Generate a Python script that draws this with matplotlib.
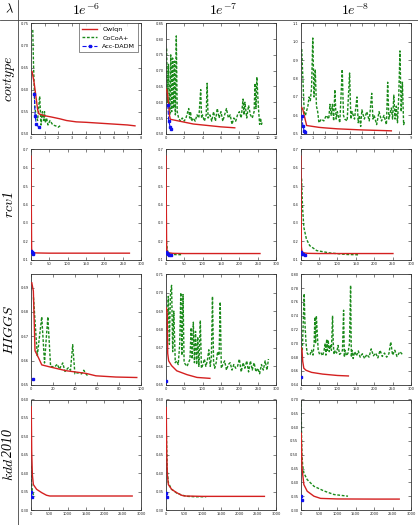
import matplotlib
matplotlib.use("Agg")
import matplotlib.pyplot as plt
from matplotlib.lines import Line2D
from matplotlib.ticker import MultipleLocator

plt.rcParams['mathtext.fontset'] = 'cm'

# ---------------- data ----------------
datasets = ['covtype', 'rcv1', 'HIGGS', 'kdd2010']
lambdas = ['-6', '-7', '-8']
methods = ['Owlqn', 'CoCoA+', 'Acc-DADM']

# covtype
cov6_owl_x = [0.1, 0.25, 0.38, 0.5, 0.6, 1.0, 1.5, 2.1, 2.6, 3.3, 4.0, 5.0, 6.0, 7.0, 7.55]
cov6_owl_y = [0.641, 0.615, 0.584, 0.555, 0.545, 0.541, 0.538, 0.534, 0.530, 0.527, 0.526, 0.524, 0.522, 0.520, 0.518]
cov6_coc_x = [0.15, 0.2, 0.3, 0.4, 0.5, 0.55, 0.65, 0.75, 0.85, 0.95, 1.0, 1.05, 1.15, 1.25, 1.4, 1.6, 1.8, 2.0, 2.2]
cov6_coc_y = [0.735, 0.66, 0.56, 0.54, 0.53, 0.55, 0.585, 0.52, 0.55, 0.53, 0.55, 0.525, 0.535, 0.52, 0.53, 0.52, 0.518, 0.515, 0.52]
cov6_acc_x = [0.26, 0.32, 0.4, 0.58]
cov6_acc_y = [0.59, 0.541, 0.522, 0.515]

cov7_owl_x = [0.1, 0.2, 0.3, 0.4, 0.5, 1.0, 2.0, 3.0, 4.0, 5.0, 6.0, 7.0, 7.5]
cov7_owl_y = [0.641, 0.625, 0.60, 0.56, 0.546, 0.543, 0.537, 0.531, 0.528, 0.525, 0.522, 0.520, 0.519]
cov7_coc_x = [0.1, 0.2, 0.3, 0.45, 0.55, 0.65, 0.75, 0.85, 0.95, 1.05,
              1.15, 1.25, 1.4, 1.6, 1.8, 2.0, 2.2, 2.4, 2.5, 2.6,
              2.7, 2.8, 3.0, 3.2, 3.4, 3.6, 3.8, 3.9, 4.0, 4.2,
              4.4, 4.5, 4.6, 4.8, 5.0, 5.2, 5.4, 5.6, 5.8, 6.0,
              6.2, 6.4, 6.6, 6.8, 7.0, 7.2, 7.4, 7.6, 7.8, 8.0,
              8.2, 8.4, 8.5, 8.6, 8.8, 9.0, 9.2, 9.4, 9.6, 9.7,
              9.8, 9.9, 10.0, 10.1, 10.2, 10.3, 10.4, 10.5]
cov7_coc_y = [0.77, 0.60, 0.72, 0.56, 0.75, 0.57, 0.74, 0.58, 0.73, 0.56,
              0.81, 0.57, 0.55, 0.54, 0.55, 0.54, 0.55, 0.57, 0.58, 0.55,
              0.57, 0.54, 0.55, 0.54, 0.56, 0.55, 0.64, 0.55, 0.56, 0.54,
              0.56, 0.66, 0.55, 0.56, 0.54, 0.57, 0.54, 0.58, 0.55, 0.57,
              0.54, 0.56, 0.58, 0.55, 0.56, 0.53, 0.55, 0.54, 0.56, 0.57,
              0.55, 0.61, 0.56, 0.60, 0.55, 0.59, 0.56, 0.55, 0.57, 0.66,
              0.58, 0.68, 0.62, 0.57, 0.53, 0.55, 0.53, 0.54]
cov7_acc_x = [0.22, 0.33, 0.48, 0.62]
cov7_acc_y = [0.592, 0.542, 0.521, 0.515]

cov8_owl_x = [0.1, 0.2, 0.3, 0.5, 1.0, 1.5, 2.0, 3.0, 4.0, 5.0, 6.0, 7.0, 7.4]
cov8_owl_y = [0.643, 0.63, 0.60, 0.545, 0.54, 0.535, 0.532, 0.527, 0.524, 0.521, 0.519, 0.517, 0.516]
cov8_coc_x = [0.1, 0.3, 0.4, 0.6, 0.7, 0.8, 0.9, 1.0, 1.1, 1.2,
              1.3, 1.4, 1.5, 1.7, 1.9, 2.1, 2.3, 2.4, 2.5, 2.6,
              2.7, 2.8, 2.9, 3.0, 3.2, 3.4, 3.5, 3.6, 3.8, 4.0,
              4.1, 4.2, 4.4, 4.6, 4.7, 4.8, 4.9, 5.0, 5.2, 5.4,
              5.6, 5.8, 5.9, 6.0, 6.2, 6.4, 6.6, 6.8, 7.0, 7.1,
              7.2, 7.4, 7.5, 7.6, 7.7, 7.8, 7.9, 8.0, 8.1, 8.2,
              8.3, 8.4, 8.5]
cov8_coc_y = [0.96, 0.62, 0.60, 0.65, 0.70, 0.68, 0.75, 1.02, 0.70, 0.85,
              0.65, 0.62, 0.56, 0.58, 0.57, 0.60, 0.58, 0.66, 0.60, 0.66,
              0.57, 0.74, 0.58, 0.62, 0.56, 0.85, 0.60, 0.58, 0.57, 0.83,
              0.58, 0.62, 0.58, 0.70, 0.56, 0.60, 0.54, 0.63, 0.58, 0.62,
              0.57, 0.72, 0.58, 0.60, 0.55, 0.62, 0.57, 0.60, 0.55, 0.78,
              0.58, 0.64, 0.58, 0.71, 0.58, 0.65, 0.56, 0.70, 0.95, 0.62,
              0.78, 0.55, 0.57]
cov8_acc_x = [0.11, 0.2, 0.3, 0.4]
cov8_acc_y = [0.594, 0.54, 0.516, 0.509]

# rcv1
rcv6_owl_x = [1, 1.5, 2.5, 4, 8, 20, 50, 100, 200, 268]
rcv6_owl_y = [0.663, 0.45, 0.16, 0.142, 0.138, 0.137, 0.136, 0.136, 0.136, 0.136]
rcv6_coc_x = [1, 2, 3, 4]
rcv6_coc_y = [0.20, 0.15, 0.14, 0.136]
rcv6_acc_x = [2, 3.5, 5, 7]
rcv6_acc_y = [0.148, 0.14, 0.136, 0.134]

rcv7_owl_x = [1, 1.5, 2.5, 4, 8, 20, 50, 100, 200, 256]
rcv7_owl_y = [0.663, 0.45, 0.17, 0.145, 0.138, 0.135, 0.134, 0.134, 0.134, 0.134]
rcv7_coc_x = [2, 4, 6, 10, 20, 30, 45]
rcv7_coc_y = [0.20, 0.16, 0.14, 0.132, 0.129, 0.128, 0.128]
rcv7_acc_x = [2, 4, 7, 10, 15]
rcv7_acc_y = [0.14, 0.135, 0.13, 0.128, 0.127]

rcv8_owl_x = [1, 1.5, 2.5, 4, 8, 20, 50, 100, 200, 251]
rcv8_owl_y = [0.663, 0.45, 0.17, 0.145, 0.138, 0.135, 0.134, 0.134, 0.134, 0.134]
rcv8_coc_x = [3, 5.5, 9, 16, 25, 44, 80, 125, 159]
rcv8_coc_y = [0.541, 0.386, 0.277, 0.213, 0.177, 0.15, 0.137, 0.129, 0.127]
rcv8_acc_x = [1, 4, 8, 12]
rcv8_acc_y = [0.14, 0.132, 0.129, 0.128]

# HIGGS
hig6_owl_x = [1, 2.4, 3.9, 7, 10, 17, 32, 50, 59, 77, 96]
hig6_owl_y = [0.692, 0.6886, 0.664, 0.6612, 0.6582, 0.6574, 0.6558, 0.6547, 0.6537, 0.6532, 0.653]
hig6_coc_x = [2.5, 6, 10, 12.5, 15.5, 18, 22, 24, 26, 29,
              31, 34, 36, 38, 40, 43, 46, 48, 50, 52]
hig6_coc_y = [0.686, 0.662, 0.678, 0.659, 0.678, 0.6575, 0.6575, 0.6585, 0.6565, 0.659,
              0.6555, 0.657, 0.656, 0.6665, 0.6545, 0.655, 0.6545, 0.656, 0.6545, 0.6535]
hig6_acc_x = [2]
hig6_acc_y = [0.6523]

hig7_owl_x = [2, 4, 5.5, 8, 16, 30, 58, 85, 120]
hig7_owl_y = [0.6916, 0.689, 0.667, 0.663, 0.6604, 0.6576, 0.6555, 0.654, 0.6535]
hig7_coc_x = [4, 7, 10, 13, 16, 19, 22, 26, 30, 34,
              38, 41, 44, 47, 50, 54, 58, 62, 66, 69,
              72, 75, 78, 81, 84, 87, 90, 94, 97, 101,
              105, 109, 113, 117, 121, 124, 127, 130, 133, 137,
              141, 145, 148, 151, 155, 160, 165, 170, 175, 180,
              185, 190, 195, 200, 205, 210, 215, 220, 225, 230,
              235, 240, 245, 250, 255, 260, 265, 270, 275, 279]
hig7_coc_y = [0.680, 0.698, 0.672, 0.700, 0.704, 0.668, 0.690, 0.662, 0.663, 0.661,
              0.672, 0.700, 0.666, 0.699, 0.662, 0.661, 0.660, 0.662, 0.664, 0.681,
              0.664, 0.684, 0.662, 0.679, 0.661, 0.676, 0.660, 0.685, 0.659, 0.661,
              0.664, 0.660, 0.663, 0.669, 0.660, 0.665, 0.698, 0.662, 0.659, 0.662,
              0.668, 0.666, 0.695, 0.659, 0.661, 0.663, 0.658, 0.661, 0.662, 0.658,
              0.661, 0.659, 0.660, 0.664, 0.657, 0.662, 0.659, 0.663, 0.657, 0.663,
              0.658, 0.662, 0.657, 0.659, 0.656, 0.661, 0.658, 0.663, 0.658, 0.664]
hig7_acc_x = [2]
hig7_acc_y = [0.652]

hig8_owl_x = [2, 4, 6, 9, 15, 30, 60, 100, 130]
hig8_owl_y = [0.6934, 0.691, 0.674, 0.664, 0.661, 0.658, 0.6555, 0.6535, 0.6528]
hig8_coc_x = [5, 8, 10, 12, 15, 18, 22, 26, 30, 34,
              37, 39, 41, 43, 45, 48, 52, 56, 60, 64,
              67, 69, 71, 73, 75, 78, 81, 84, 87, 89,
              91, 94, 98, 102, 106, 110, 114, 117, 119, 121,
              125, 129, 133, 136, 138, 140, 143, 147, 152, 157,
              162, 168, 174, 180, 186, 192, 198, 204, 210, 216,
              222, 228, 234, 240, 245, 250, 256, 262, 270, 278]
hig8_coc_y = [0.69, 0.74, 0.772, 0.73, 0.70, 0.686, 0.683, 0.684, 0.690, 0.683,
              0.70, 0.738, 0.70, 0.74, 0.72, 0.690, 0.684, 0.686, 0.682, 0.690,
              0.70, 0.683, 0.706, 0.690, 0.705, 0.688, 0.698, 0.690, 0.740, 0.700,
              0.684, 0.690, 0.686, 0.697, 0.684, 0.686, 0.690, 0.748, 0.680, 0.690,
              0.682, 0.686, 0.700, 0.784, 0.680, 0.690, 0.678, 0.688, 0.682, 0.689,
              0.680, 0.685, 0.678, 0.684, 0.680, 0.692, 0.682, 0.686, 0.679, 0.690,
              0.681, 0.686, 0.680, 0.685, 0.702, 0.683, 0.690, 0.681, 0.688, 0.683]
hig8_acc_x = [2]
hig8_acc_y = [0.6517]

# kdd2010
kdd6_owl_x = [15, 27, 45, 72, 162, 300, 430, 520, 1000, 2000, 2755]
kdd6_owl_y = [0.580, 0.459, 0.396, 0.369, 0.356, 0.347, 0.340, 0.338, 0.338, 0.338, 0.338]
kdd6_coc_x = [10, 15, 25, 40, 70, 110]
kdd6_coc_y = [0.42, 0.39, 0.37, 0.355, 0.342, 0.336]
kdd6_acc_x = [20, 30]
kdd6_acc_y = [0.348, 0.335]

kdd7_owl_x = [15, 27, 45, 72, 162, 300, 430, 520, 1000, 2000, 2680]
kdd7_owl_y = [0.578, 0.46, 0.396, 0.369, 0.356, 0.347, 0.340, 0.338, 0.337, 0.337, 0.337]
kdd7_coc_x = [20, 40, 70, 150, 300, 450, 600, 800, 1100]
kdd7_coc_y = [0.50, 0.41, 0.375, 0.357, 0.346, 0.340, 0.337, 0.336, 0.336]
kdd7_acc_x = [20, 40]
kdd7_acc_y = [0.345, 0.335]

kdd8_owl_x = [20, 40, 91, 182, 364, 545, 1000, 2000, 2680]
kdd8_owl_y = [0.578, 0.452, 0.392, 0.368, 0.350, 0.342, 0.340, 0.3395, 0.3395]
kdd8_coc_x = [15, 25, 40, 60, 91, 182, 364, 636, 909, 1290]
kdd8_coc_y = [0.70, 0.60, 0.50, 0.46, 0.434, 0.41, 0.386, 0.369, 0.356, 0.350]
kdd8_acc_x = [20, 40]
kdd8_acc_y = [0.35, 0.335]

series = {
    (0, 0): [(cov6_owl_x, cov6_owl_y), (cov6_coc_x, cov6_coc_y), (cov6_acc_x, cov6_acc_y)],
    (0, 1): [(cov7_owl_x, cov7_owl_y), (cov7_coc_x, cov7_coc_y), (cov7_acc_x, cov7_acc_y)],
    (0, 2): [(cov8_owl_x, cov8_owl_y), (cov8_coc_x, cov8_coc_y), (cov8_acc_x, cov8_acc_y)],
    (1, 0): [(rcv6_owl_x, rcv6_owl_y), (rcv6_coc_x, rcv6_coc_y), (rcv6_acc_x, rcv6_acc_y)],
    (1, 1): [(rcv7_owl_x, rcv7_owl_y), (rcv7_coc_x, rcv7_coc_y), (rcv7_acc_x, rcv7_acc_y)],
    (1, 2): [(rcv8_owl_x, rcv8_owl_y), (rcv8_coc_x, rcv8_coc_y), (rcv8_acc_x, rcv8_acc_y)],
    (2, 0): [(hig6_owl_x, hig6_owl_y), (hig6_coc_x, hig6_coc_y), (hig6_acc_x, hig6_acc_y)],
    (2, 1): [(hig7_owl_x, hig7_owl_y), (hig7_coc_x, hig7_coc_y), (hig7_acc_x, hig7_acc_y)],
    (2, 2): [(hig8_owl_x, hig8_owl_y), (hig8_coc_x, hig8_coc_y), (hig8_acc_x, hig8_acc_y)],
    (3, 0): [(kdd6_owl_x, kdd6_owl_y), (kdd6_coc_x, kdd6_coc_y), (kdd6_acc_x, kdd6_acc_y)],
    (3, 1): [(kdd7_owl_x, kdd7_owl_y), (kdd7_coc_x, kdd7_coc_y), (kdd7_acc_x, kdd7_acc_y)],
    (3, 2): [(kdd8_owl_x, kdd8_owl_y), (kdd8_coc_x, kdd8_coc_y), (kdd8_acc_x, kdd8_acc_y)],
}

# axis limits / tick steps per panel: (xmin, xmax, xstep, ymin, ymax, ystep)
limits = {
    (0, 0): (0, 8, 1, 0.50, 0.75, 0.05),
    (0, 1): (0, 12, 2, 0.50, 0.85, 0.05),
    (0, 2): (0, 9, 1, 0.5, 1.1, 0.1),
    (1, 0): (0, 300, 50, 0.1, 0.7, 0.1),
    (1, 1): (0, 300, 50, 0.1, 0.7, 0.1),
    (1, 2): (0, 300, 50, 0.1, 0.7, 0.1),
    (2, 0): (0, 100, 20, 0.65, 0.6955, 0.01),
    (2, 1): (0, 300, 50, 0.65, 0.71, 0.01),
    (2, 2): (0, 300, 50, 0.64, 0.80, 0.02),
    (3, 0): (0, 3000, 500, 0.30, 0.60, 0.05),
    (3, 1): (0, 3000, 500, 0.30, 0.60, 0.05),
    (3, 2): (0, 3000, 500, 0.30, 0.70, 0.05),
}

# ---------------- figure ----------------
W, H = 418, 525
fig = plt.figure(figsize=(W / 100, H / 100), dpi=100)
fig.patch.set_facecolor('white')

col_left = [30.7, 165.7, 300.5]
row_top = [23.3, 149.3, 274.3, 399.5]
ax_w, ax_h = 110.5, 110.5

red = '#d42020'
green = '#1a8a1a'
blue = '#1010ee'

for (r, c), lines in series.items():
    l = col_left[c] / W
    b = 1 - (row_top[r] + ax_h) / H
    ax = fig.add_axes([l, b, ax_w / W, ax_h / H])
    (ox, oy), (cx, cy), (ax_, ay) = lines
    ax.plot(ox, oy, color=red, lw=1.0, label=methods[0], zorder=3)
    ax.plot(cx, cy, color=green, lw=1.0, ls=(0, (2, 1.2)), label=methods[1], zorder=2)
    ax.plot(ax_, ay, color=blue, lw=0.8, ls='--', marker='s', ms=2.0,
            mec=blue, mfc=blue, label=methods[2], zorder=4)
    x0, x1, xs, y0, y1, ys = limits[(r, c)]
    ax.set_xlim(x0, x1)
    ax.set_ylim(y0, y1)
    ax.xaxis.set_major_locator(MultipleLocator(xs))
    ax.yaxis.set_major_locator(MultipleLocator(ys))
    ax.tick_params(direction='in', top=True, right=True, length=2, width=0.4,
                   labelsize=2.6, pad=1.5, colors='#222222')
    for sp in ax.spines.values():
        sp.set_linewidth(0.6)
        sp.set_color('#333333')
    if (r, c) == (0, 0):
        leg = ax.legend(loc='upper right', bbox_to_anchor=(0.975, 1.0), borderaxespad=0.0,
                        fontsize=4.6, frameon=True, fancybox=False,
                        borderpad=0.5, handlelength=2.3, labelspacing=0.5,
                        handletextpad=0.8, edgecolor='#333333')
        leg.get_frame().set_linewidth(0.5)

# headers
def fx(px):
    return px / W

def fy(py):
    return 1 - py / H

fig.text(fx(9), fy(10), r'$\lambda$', ha='center', va='center', fontsize=9)
col_centers = [86, 223, 355]
for c, lam in enumerate(lambdas):
    fig.text(fx(col_centers[c]), fy(10), r'$1e^{%s}$' % lam, ha='center', va='center',
             fontsize=10)

row_centers = [t + ax_h / 2 for t in row_top]
renderer = fig.canvas.get_renderer()
for r, name in enumerate(datasets):
    letters = name.rstrip('0123456789')
    digits = name[len(letters):]
    if not digits:
        fig.text(fx(9), fy(row_centers[r]), r'$\mathit{%s}$' % name, ha='center',
                 va='center', rotation=90, fontsize=10)
    else:
        # letters in CM italic, digits in an italic face with lining figures
        t1 = fig.text(0, 0, r'$%s$' % letters, rotation=90, fontsize=10)
        t2 = fig.text(0, 0, digits, rotation=90, fontsize=10,
                      family='Liberation Serif', style='italic')
        h1 = t1.get_window_extent(renderer).height
        h2 = t2.get_window_extent(renderer).height
        total = h1 + h2
        ybot = (H - row_centers[r]) - total / 2  # pixels from bottom
        t1.set_position((fx(9), ybot / H))
        t1.set_ha('center'); t1.set_va('bottom')
        t2.set_position((fx(9), (ybot + h1) / H))
        t2.set_ha('center'); t2.set_va('bottom')

fig.add_artist(Line2D([0, 1], [fy(20), fy(20)], transform=fig.transFigure,
                      color='#444444', lw=0.6))
fig.add_artist(Line2D([fx(17.5), fx(17.5)], [0, 1], transform=fig.transFigure,
                      color='#444444', lw=0.6))

fig.savefig('out.png', dpi=100, facecolor='white')
